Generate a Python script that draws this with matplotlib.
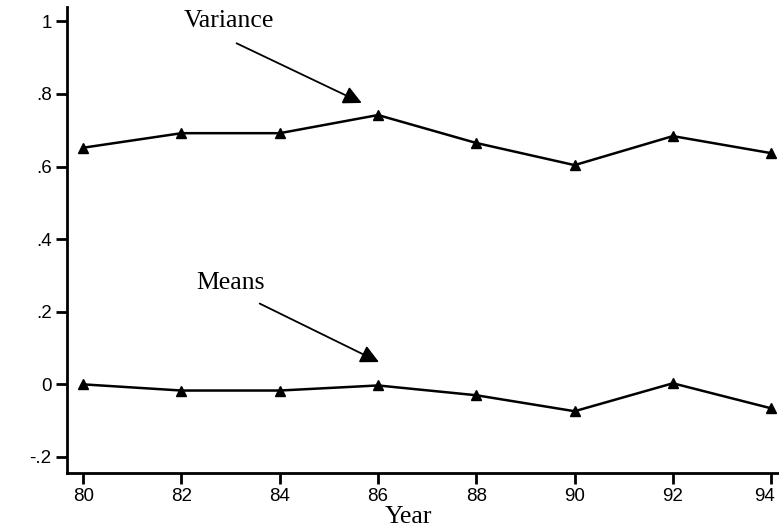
import matplotlib.pyplot as plt
import matplotlib.transforms as mtransforms

years = [80, 82, 84, 86, 88, 90, 92, 94]
variance = [0.652, 0.692, 0.692, 0.742, 0.665, 0.604, 0.684, 0.637]
means = [0.0, -0.017, -0.017, -0.003, -0.030, -0.074, 0.003, -0.066]

yticks = [-0.2, 0, 0.2, 0.4, 0.6, 0.8, 1]
ytick_labels = ['-.2', '0', '.2', '.4', '.6', '.8', '1']

fig = plt.figure(figsize=(7.79, 5.29), dpi=100)
ax = fig.add_axes([0.086, 0.106, 0.914, 0.881])

ax.plot(years, variance, color='black', lw=1.8, marker='^', ms=6.5)
ax.plot(years, means, color='black', lw=1.8, marker='^', ms=6.5)

ax.set_xlim(79.67, 94.16)
ax.set_ylim(-0.244, 1.04)
ax.set_xticks(years)
ax.set_xticklabels([str(y) for y in years])
ax.set_yticks(yticks)
ax.set_yticklabels(ytick_labels)

for s in ['top', 'right']:
    ax.spines[s].set_visible(False)
for s in ['left', 'bottom']:
    ax.spines[s].set_linewidth(2)
ax.tick_params(length=8, width=2, labelsize=13.5, pad=3)
for lab in ax.get_xticklabels() + ax.get_yticklabels():
    lab.set_family('Liberation Sans')

# last year label sits a bit left so it stays inside the figure
last = ax.get_xticklabels()[-1]
last.set_transform(last.get_transform() +
                   mtransforms.ScaledTranslation(-7 / 100, 0, fig.dpi_scale_trans))

ax.set_xlabel('Year', family='Liberation Serif', fontsize=18.5)
ax.xaxis.set_label_coords(0.479, -0.094)
ax.xaxis.label.set_va('center')

arrow = dict(arrowstyle='-|>,head_length=1.1,head_width=0.55', color='black', lw=1.3)
ax.annotate('', xy=(85.72, 0.772), xytext=(83.07, 0.943), arrowprops=arrow)
ax.text(82.97, 1.0, 'Variance', family='Liberation Serif', fontsize=18.5,
        ha='center', va='center')
ax.annotate('', xy=(86.07, 0.058), xytext=(83.54, 0.226), arrowprops=arrow)
ax.text(82.99, 0.278, 'Means', family='Liberation Serif', fontsize=18.5,
        ha='center', va='center')

fig.savefig('out.png', dpi=100)
